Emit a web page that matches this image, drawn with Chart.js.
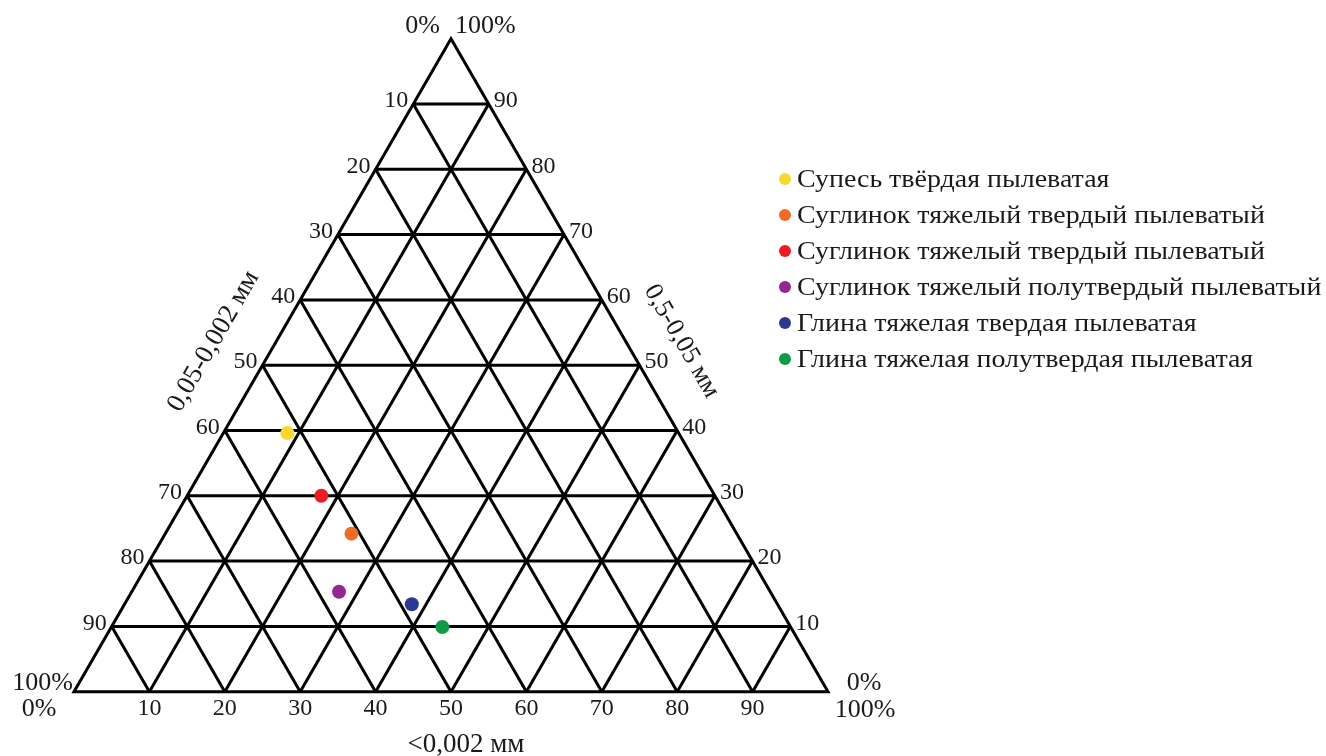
<!DOCTYPE html>
<html>
<head>
<meta charset="utf-8">
<script src="https://cdn.jsdelivr.net/npm/chart.js@4/dist/chart.umd.min.js"></script>
<style>
  html, body { margin: 0; padding: 0; background: #ffffff; }
  canvas { display: block; }
</style>
</head>
<body>
<canvas id="soil" width="1326" height="756"></canvas>
<script>
// Soil samples: particle-size fractions, %
const soilNames = [
  'Супесь твёрдая пылеватая',
  'Суглинок тяжелый твердый пылеватый',
  'Суглинок тяжелый твердый пылеватый',
  'Суглинок тяжелый полутвердый пылеватый',
  'Глина тяжелая твердая пылеватая',
  'Глина тяжелая полутвердая пылеватая'
];
const soilColors = ['#f9d72f', '#f26b23', '#ec1c24', '#93278f', '#2b3990', '#0e9a48'];
const sandPct = [39.6, 24.2, 30.0, 15.3, 13.4, 9.9];   // 0,5-0,05 мм
const siltPct = [51.9, 51.1, 52.2, 57.2, 48.5, 46.2];  // 0,05-0,002 мм
const clayPct = [8.5, 24.7, 17.8, 27.5, 38.1, 43.9];   // <0,002 мм

// Grid steps and axis labels
const gridSteps = [10, 20, 30, 40, 50, 60, 70, 80, 90];
const tickLabels = ['10', '20', '30', '40', '50', '60', '70', '80', '90'];
const cornerLabels = { min: '0%', max: '100%' };
const axisTitles = { silt: '0,05-0,002 мм', sand: '0,5-0,05 мм', clay: '<0,002 мм' };

// Ternary -> plane: clay runs along the base, sand rises toward the apex
function toXY(sand, clay) {
  return { x: clay + sand / 2, y: sand };
}

const lineStyle = {
  showLine: true, borderColor: '#000000', borderWidth: 3, pointRadius: 0,
  fill: false, tension: 0, order: 2, borderJoinStyle: 'miter'
};

const datasets = [];

// Sample points
soilNames.forEach((name, i) => {
  datasets.push({
    label: name,
    data: [toXY(sandPct[i], clayPct[i])],
    backgroundColor: soilColors[i],
    borderWidth: 0,
    pointRadius: 7,
    pointHoverRadius: 7,
    order: 0
  });
});

// Grid: constant sand (horizontal), constant clay, constant silt
gridSteps.forEach(k => {
  datasets.push(Object.assign({ label: 'sand ' + k, data: [toXY(k, 0), toXY(k, 100 - k)] }, lineStyle));
  datasets.push(Object.assign({ label: 'clay ' + k, data: [toXY(0, k), toXY(100 - k, k)] }, lineStyle));
  datasets.push(Object.assign({ label: 'silt ' + k, data: [toXY(0, 100 - k), toXY(100 - k, 0)] }, lineStyle));
});

// Outline
datasets.push(Object.assign({}, lineStyle, {
  label: 'outline',
  data: [toXY(0, 0), toXY(0, 100), toXY(100, 0), toXY(0, 0), toXY(0, 100)],
  order: 1
}));

const SERIF = '"Liberation Serif", "Times New Roman", serif';
const FONT_TICK = '24px ' + SERIF;
const FONT_CORNER = '26px ' + SERIF;
const FONT_LEGEND = '26px ' + SERIF;

const labelsPlugin = {
  id: 'ternaryLabels',
  afterDraw(chart) {
    const ctx = chart.ctx;
    const xs = chart.scales.x, ys = chart.scales.y;
    const P = (sand, clay) => {
      const p = toXY(sand, clay);
      return { x: xs.getPixelForValue(p.x), y: ys.getPixelForValue(p.y) };
    };
    ctx.save();
    ctx.fillStyle = '#1a1a1a';
    ctx.font = FONT_TICK;
    ctx.textBaseline = 'middle';

    gridSteps.forEach((k, i) => {
      // left edge: silt fraction
      let p = P(100 - k, 0);
      ctx.textAlign = 'right';
      ctx.fillText(tickLabels[i], p.x - 5, p.y - 3);
      // right edge: sand fraction
      p = P(k, 100 - k);
      ctx.textAlign = 'left';
      ctx.fillText(tickLabels[i], p.x + 5, p.y - 3);
      // base: clay fraction
      p = P(0, k);
      ctx.textAlign = 'center';
      ctx.fillText(tickLabels[i], p.x, p.y + 17);
    });

    // corners
    const top = P(100, 0), bl = P(0, 0), br = P(0, 100);
    ctx.font = FONT_CORNER;
    ctx.textAlign = 'right';
    ctx.fillText(cornerLabels.min, top.x - 11, top.y - 13);
    ctx.textAlign = 'left';
    ctx.fillText(cornerLabels.max, top.x + 4, top.y - 13);
    ctx.textAlign = 'right';
    ctx.fillText(cornerLabels.max, bl.x - 1, bl.y - 9);
    ctx.textAlign = 'center';
    ctx.fillText(cornerLabels.min, bl.x - 35, bl.y + 17);
    ctx.fillText(cornerLabels.min, br.x + 36, br.y - 9);
    ctx.fillText(cornerLabels.max, br.x + 37, br.y + 18);

    // axis titles
    ctx.font = '27px ' + SERIF;
    ctx.textAlign = 'center';
    ctx.fillText(axisTitles.clay, (bl.x + br.x) / 2 + 15, bl.y + 53);

    const midL = P(50, 0);
    ctx.save();
    ctx.translate(midL.x - 49, midL.y - 24);
    ctx.rotate(-Math.PI / 3);
    ctx.fillText(axisTitles.silt, 0, 0);
    ctx.restore();

    ctx.font = '26px ' + SERIF;
    const midR = P(50, 50);
    ctx.save();
    ctx.translate(midR.x + 42, midR.y - 24);
    ctx.rotate(Math.PI / 3);
    ctx.fillText(axisTitles.sand, 0, 0);
    ctx.restore();

    // legend
    ctx.font = FONT_LEGEND;
    ctx.textAlign = 'left';
    soilNames.forEach((name, i) => {
      const y = 179 + i * 36;
      ctx.beginPath();
      ctx.fillStyle = soilColors[i];
      ctx.arc(785, y, 6, 0, Math.PI * 2);
      ctx.fill();
      ctx.fillStyle = '#1a1a1a';
      ctx.save();
      ctx.translate(797, y + 1);
      ctx.scale(1.075, 1);
      ctx.fillText(name, 0, 0);
      ctx.restore();
    });
    ctx.restore();
  }
};

new Chart(document.getElementById('soil'), {
  type: 'scatter',
  data: { datasets },
  options: {
    responsive: false,
    animation: false,
    layout: { padding: { left: 74, right: 498, top: 38.7, bottom: 64.3 } },
    scales: {
      x: { type: 'linear', min: 0, max: 100, display: false },
      y: { type: 'linear', min: 0, max: 100, display: false }
    },
    plugins: {
      legend: { display: false },
      tooltip: { enabled: false }
    },
    clip: false
  },
  plugins: [labelsPlugin]
});
</script>
</body>
</html>
